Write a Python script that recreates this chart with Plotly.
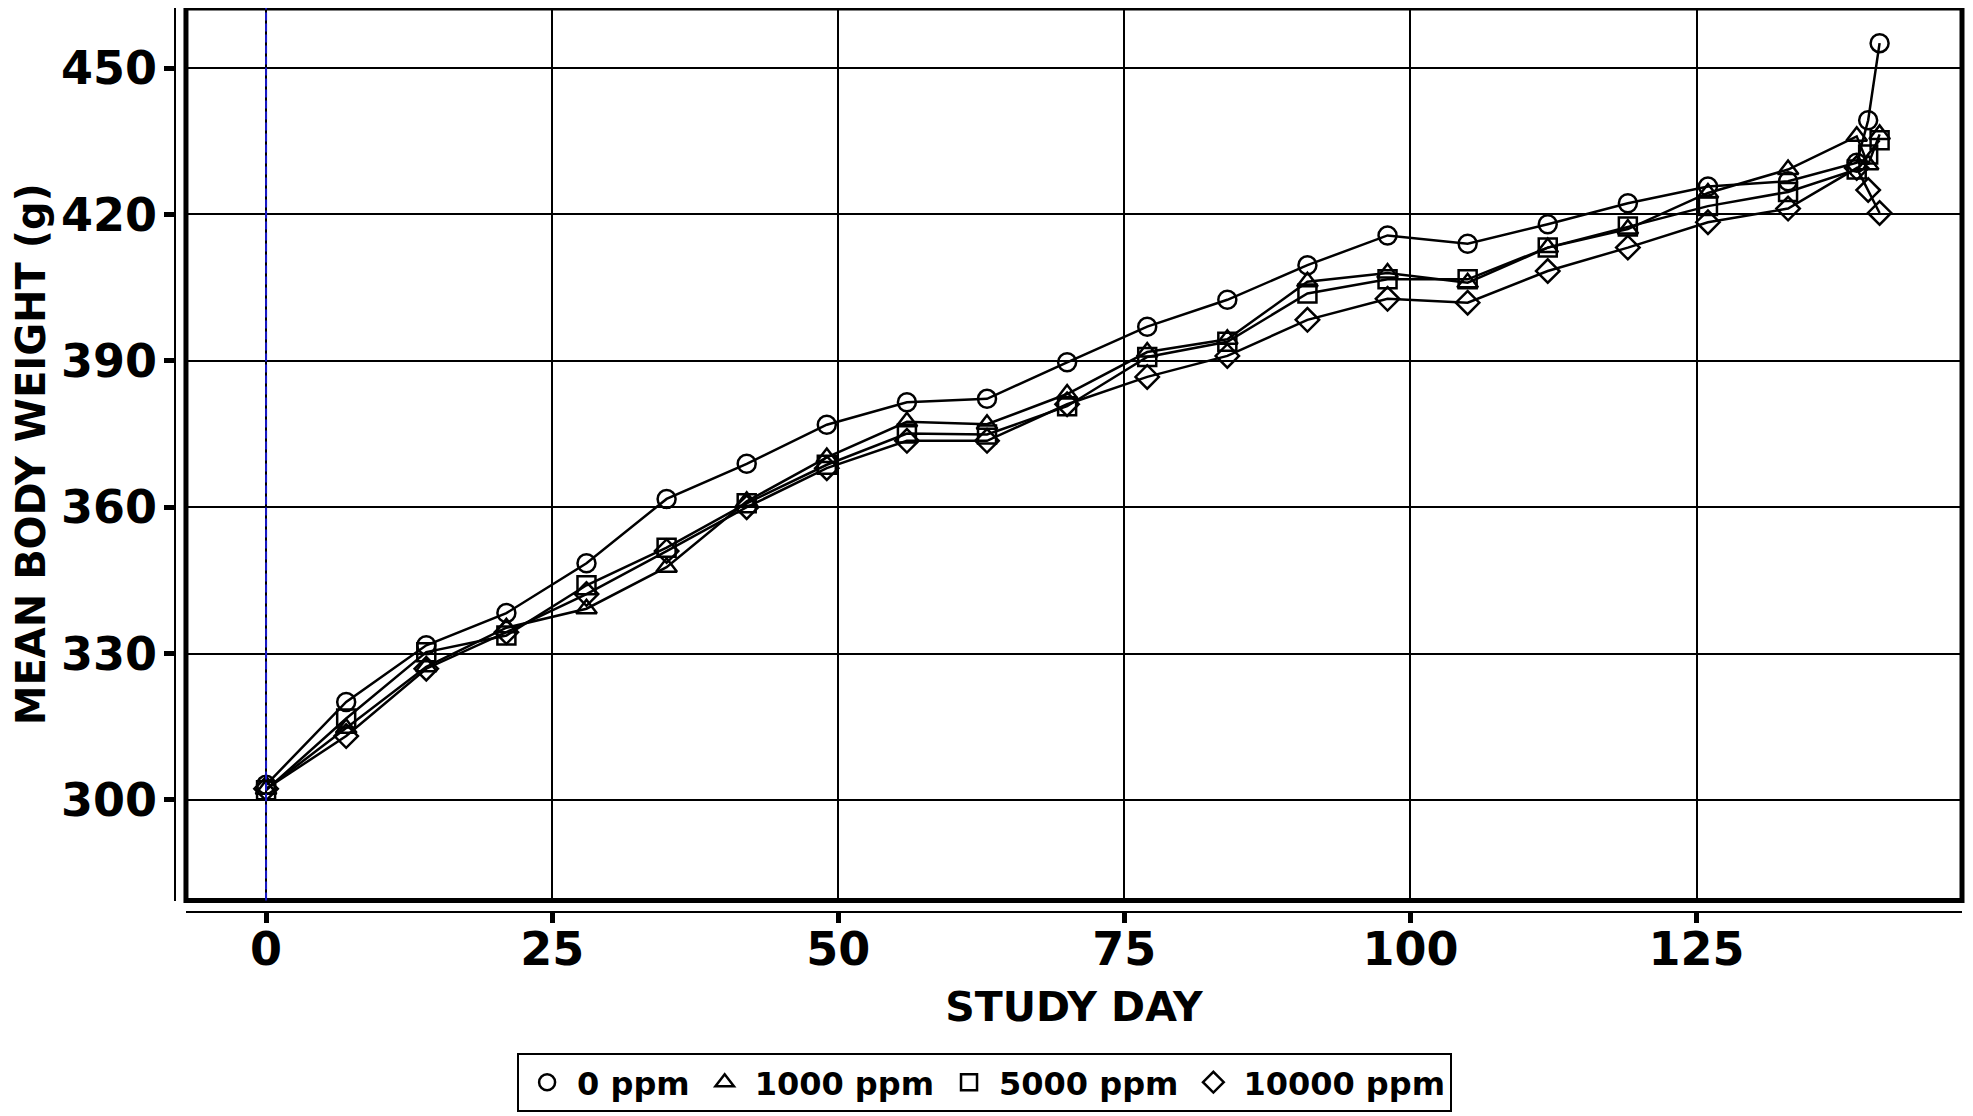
import plotly.graph_objects as go

days = [0, 7, 14, 21, 28, 35, 42, 49, 56, 63, 70, 77, 84, 91, 98, 105, 112, 119, 126, 133, 139, 140, 141]

ppm_0 = [303.1, 320.1, 331.7, 338.3, 348.5, 361.7, 368.9, 376.9, 381.5, 382.2, 389.7, 397.0,
         402.5, 409.6, 415.7, 414.0, 418.0, 422.3, 425.7, 426.8, 430.6, 439.3, 455.1]
ppm_1000 = [302.2, 314.7, 327.3, 335.3, 339.2, 347.7, 361.2, 370.2, 377.5, 377.0, 383.2, 391.8,
            394.4, 406.2, 408.0, 406.0, 413.2, 417.0, 424.4, 429.2, 436.0, 430.2, 436.4]
ppm_5000 = [302.0, 316.7, 330.3, 333.7, 344.0, 351.7, 360.8, 368.7, 375.1, 374.9, 380.7, 390.8,
            393.9, 403.8, 406.7, 406.7, 413.2, 417.5, 421.7, 424.6, 429.2, 432.3, 435.2]
ppm_10000 = [302.3, 313.1, 326.9, 334.4, 342.2, 351.0, 360.0, 368.0, 373.6, 373.6, 381.1, 386.7,
             391.0, 398.4, 402.7, 401.9, 408.4, 413.2, 418.4, 421.2, 429.5, 425.0, 420.3]

series_names = ["0 ppm", "1000 ppm", "5000 ppm", "10000 ppm"]
series_values = [ppm_0, ppm_1000, ppm_5000, ppm_10000]
series_symbols = ["circle-open", "triangle-up-open", "square-open", "diamond-open"]

x_ticks = [0, 25, 50, 75, 100, 125]
y_ticks = [300, 330, 360, 390, 420, 450]

FONT = "DejaVu Sans"

fig = go.Figure()
# connecting lines (not in legend)
for name, vals in zip(series_names, series_values):
    fig.add_trace(go.Scatter(
        x=days, y=vals, name=name, mode="lines", legendgroup=name, showlegend=False,
        line=dict(color="black", width=2.5), hoverinfo="skip",
    ))
# open markers (shown in legend)
for name, vals, sym in zip(series_names, series_values, series_symbols):
    fig.add_trace(go.Scatter(
        x=days, y=vals, name=name, mode="markers", legendgroup=name,
        marker=dict(symbol=sym, size=18, color="black", line=dict(color="black", width=2.5)),
    ))

axis_common = dict(
    anchor="free", position=0, automargin=False,
    showgrid=True, gridcolor="black", gridwidth=2,
    showline=True, linecolor="black", linewidth=1.5,
    ticks="outside", ticklen=10, tickwidth=5, tickcolor="black",
    tickfont=dict(family=FONT, size=46, color="black", weight="bold"),
    zeroline=False, tickmode="array",
)

# the page body adds an 8px offset, so the figure is 8px smaller than the window
fig.update_layout(
    width=1965, height=1108,
    margin=dict(l=167, r=11, t=0, b=204, autoexpand=False),
    paper_bgcolor="white", plot_bgcolor="white",
    font=dict(family=FONT, color="black", weight="bold"),
    showlegend=True,
    legend=dict(
        orientation="h", xref="container", yref="container",
        x=0.497, xanchor="center", y=0.0037, yanchor="bottom",
        font=dict(family=FONT, size=32, color="black", weight="bold"),
        bordercolor="black", borderwidth=2, bgcolor="white",
        itemwidth=50,
    ),
    xaxis=dict(
        axis_common,
        domain=[0.00614, 1],
        range=[-7.0, 148.2], tickvals=x_ticks,
        ticklabelstandoff=-13,
        title=dict(text="STUDY DAY", standoff=16,
                   font=dict(family=FONT, size=41, color="black", weight="bold")),
    ),
    yaxis=dict(
        axis_common,
        domain=[0.0127, 1],
        range=[279.4, 462.3], tickvals=y_ticks,
        ticklabelstandoff=-2,
        title=dict(text="MEAN BODY WEIGHT (g)", standoff=24,
                   font=dict(family=FONT, size=40, color="black", weight="bold")),
    ),
)

# thick frame around the plotting area
fig.add_shape(type="rect", xref="x domain", yref="y domain", x0=0, x1=1, y0=0, y1=1,
              line=dict(color="black", width=5), layer="above")
# blue dashed reference line at day 0 (over the black grid line)
fig.add_shape(type="line", xref="x", yref="y domain", x0=0, x1=0, y0=0, y1=1,
              line=dict(color="#1a1acc", width=2, dash="8px,3px"), layer="above")

fig.write_html("out.html")
